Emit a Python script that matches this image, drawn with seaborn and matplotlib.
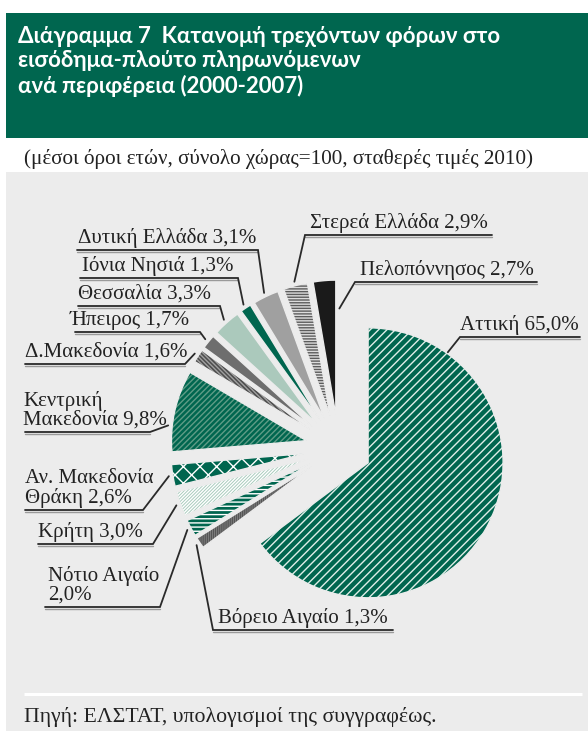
import matplotlib
matplotlib.use("Agg")
import numpy as np
import matplotlib.pyplot as plt
import seaborn as sns
from matplotlib.patches import Rectangle

# ---------------- data ----------------
regions = ["Αττική", "Βόρειο Αιγαίο", "Νότιο Αιγαίο", "Κρήτη",
           "Αν. Μακεδονία\nΘράκη", "Κεντρική\nΜακεδονία", "Δ.Μακεδονία",
           "Ήπειρος", "Θεσσαλία", "Ιόνια Νησιά", "Δυτική Ελλάδα",
           "Στερεά Ελλάδα", "Πελοπόννησος"]
shares = [65.0, 1.3, 2.0, 3.0, 2.6, 9.8, 1.6, 1.7, 3.3, 1.3, 3.1, 2.9, 2.7]
value_sep = [" ", " ", "\n", " ", " ", " ", " ", " ", " ", " ", " ", " ", " "]

title = "Διάγραμμα 7  Κατανομή τρεχόντων φόρων στο\nεισόδημα-πλούτο πληρωνόμενων\nανά περιφέρεια (2000-2007)"
subtitle = "(μέσοι όροι ετών, σύνολο χώρας=100, σταθερές τιμές 2010)"
source = "Πηγή: ΕΛΣΤΑΤ, υπολογισμοί της συγγραφέως."

# ---------------- styles ----------------
GREEN = "#00664f"
BG = "#ececec"
face = [GREEN, "#8c8c8c", GREEN, "#a9cbbd", GREEN, GREEN, "#4d4d4d",
        "#6e6e6e", "#abc9bc", GREEN, "#a0a0a0", "#5c5c5c", "#1a1a1a"]
hatch = ["////", "||||||||", "----", "//////////", "xx", "//////", "\\\\\\\\\\\\\\\\",
         None, None, None, None, "------", None]
hcol = ["#dfeee8", "#555555", "white", "white", "white", "#5f9c86", "#a0a0a0",
        "white", "white", "white", "white", "#dcdcdc", "white"]

# label layout in pixel coords (y downward): text left x, underline x0, x1, y,
# leader attach side, anchor angle override (deg, None=mid), anchor radius factor
lab_x = [460, 218, 48, 38, 25, 23, 25, 70, 78, 82, 78, 310, 360]
ul_x0 = [460, 213, 45, 38, 25, 25, 25, 75, 78, 80, 77, 305, 355]
ul_x1 = [580, 393, 160, 153, 143, 150, 185, 200, 220, 238, 258, 492, 537]
ul_y = [337, 630, 607, 544, 510, 432, 364, 332, 306, 278, 250, 235, 282]
attach = ["L", "L", "R", "R", "R", "R", "R", "R", "R", "R", "R", "L", "L"]
anc_ang = [54.2, None, None, None, None, 173.7, None, None, None, None, None, None, 88.1]
anc_rf = [1.01, 1.03, 1.03, 1.03, 1.03, 1.03, 1.03, 1.03, 1.03, 1.03, 1.03, 1.03, 0.79]

W, H = 588, 731
sns.set_theme(style="white")
plt.rcParams["font.family"] = ["Liberation Serif", "DejaVu Serif"]
plt.rcParams["hatch.linewidth"] = 1.0

fig = plt.figure(figsize=(W / 100, H / 100), dpi=100)
fig.patch.set_facecolor("white")
ax = fig.add_axes([0, 0, 1, 1])


def Y(y):
    return H - y


# pie (hatched fills)
wedges, _ = ax.pie(shares, startangle=90, counterclock=False, radius=135,
                   center=(338.6, Y(448)), explode=[33] * len(shares),
                   colors=face, frame=True,
                   wedgeprops=dict(linewidth=0, zorder=2))
for w, h, c in zip(wedges, hatch, hcol):
    w.set_edgecolor(c)
    w.set_linewidth(0)
    if h:
        w.set_hatch(h)
# outline overlay to widen the gaps between the slices
outl, _ = ax.pie(shares, startangle=90, counterclock=False, radius=135,
                 center=(338.6, Y(448)), explode=[33] * len(shares),
                 colors=["none"] * len(shares), frame=True,
                 wedgeprops=dict(linewidth=1.0, edgecolor=BG, zorder=2.5))

ax.set_xlim(0, W)
ax.set_ylim(0, H)
ax.set_aspect("equal")
ax.axis("off")

# background panels
ax.add_patch(Rectangle((6, Y(138)), W - 6, 125, facecolor=GREEN, edgecolor="none", zorder=0))
ax.add_patch(Rectangle((6, 0), W - 6, Y(172), facecolor=BG, edgecolor="none", zorder=0))
ax.plot([24, 582], [Y(694), Y(694)], color="white", lw=2.2, zorder=1, solid_capstyle="butt")

ax.text(18, Y(26), title, color="white", fontsize=16, fontweight="bold",
        family=["Lato", "DejaVu Sans"], va="top", ha="left", linespacing=1.2)
ax.text(24, Y(159), subtitle, color="#222222", fontsize=15.25, va="center", ha="left")
ax.text(24, Y(717), source, color="#222222", fontsize=15.7, va="center", ha="left")

# labels with underline + leader
for i, w in enumerate(wedges):
    val = f"{shares[i]:.1f}%".replace(".", ",")
    txt = regions[i] + value_sep[i] + val
    ang = anc_ang[i]
    if ang is None:
        ang = 0.5 * (w.theta1 + w.theta2)
    cx, cy = w.center
    rr = w.r * anc_rf[i]
    axp = cx + rr * np.cos(np.radians(ang))
    ayp = cy + rr * np.sin(np.radians(ang))
    yu = Y(ul_y[i])
    if attach[i] == "L":
        xs = [ul_x1[i], ul_x0[i], axp]
    else:
        xs = [ul_x0[i], ul_x1[i], axp]
    ys = [yu, yu, ayp]
    ax.plot(xs, ys, color="#2a2a2a", lw=1.3, zorder=3, solid_joinstyle="miter")
    ax.plot([xs[0], xs[1]], [yu - 1.5, yu - 1.5], color="#9a9a9a", lw=1.0, zorder=2)
    ax.text(lab_x[i], yu + 2, txt, fontsize=15, color="#222222",
            ha="left", va="bottom", linespacing=1.0, zorder=4)

fig.savefig("out.png", dpi=100, facecolor="white")
